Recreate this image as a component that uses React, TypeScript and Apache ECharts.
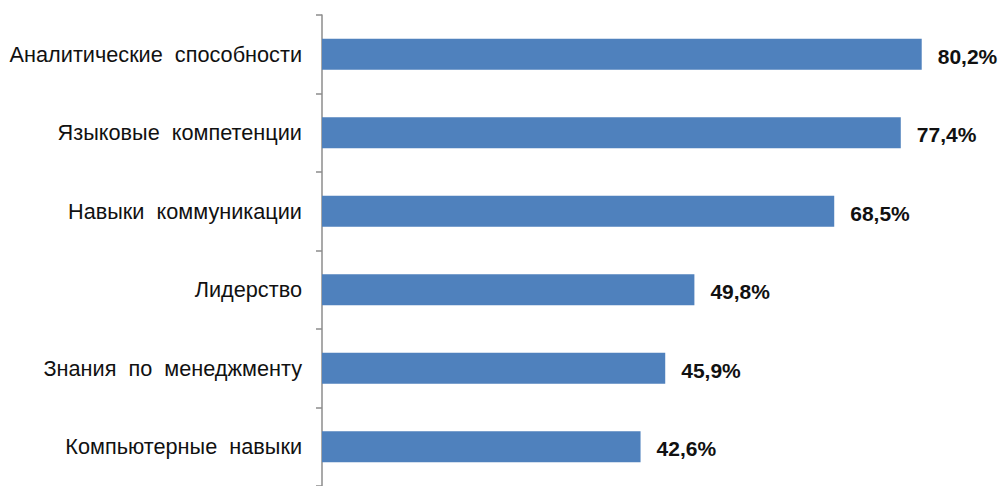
import React, { useEffect, useRef } from "react";
import * as echarts from "echarts";

const categories = [
  "Аналитические  способности",
  "Языковые  компетенции",
  "Навыки  коммуникации",
  "Лидерство",
  "Знания  по  менеджменту",
  "Компьютерные  навыки",
];
const values = [80.2, 77.4, 68.5, 49.8, 45.9, 42.6];

export default function App() {
  const ref = useRef<HTMLDivElement>(null);
  useEffect(() => {
    document.body.style.margin = "0";
    const chart = echarts.init(ref.current!, null, { renderer: "svg" });
    chart.setOption({
      animation: false,
      backgroundColor: "#ffffff",
      grid: { left: 322, top: 15, width: 673, height: 475, containLabel: false },
      xAxis: {
        type: "value",
        min: 0,
        max: 90,
        show: false,
      },
      yAxis: {
        type: "category",
        inverse: true,
        data: categories,
        axisLine: { show: true, lineStyle: { color: "#8c8c8c", width: 1.5 } },
        axisTick: { show: true, length: 6, lineStyle: { color: "#8c8c8c", width: 1.5 } },
        axisLabel: {
          color: "#111",
          fontFamily: "Liberation Sans, Arial, sans-serif",
          fontSize: 21.7,
          margin: 20,
        },
        splitLine: { show: false },
      },
      series: [
        {
          type: "bar",
          data: values,
          barWidth: 31,
          itemStyle: { color: "#4F81BD" },
          label: {
            show: true,
            position: "right",
            distance: 16,
            offset: [0, 2],
            formatter: (p: any) => String(p.value).replace(".", ",") + "%",
            color: "#111",
            fontFamily: "Liberation Sans, Arial, sans-serif",
            fontWeight: "bold",
            fontSize: 21,
          },
        },
      ],
    });
    return () => chart.dispose();
  }, []);
  return <div ref={ref} style={{ width: 1003, height: 486 }} />;
}
